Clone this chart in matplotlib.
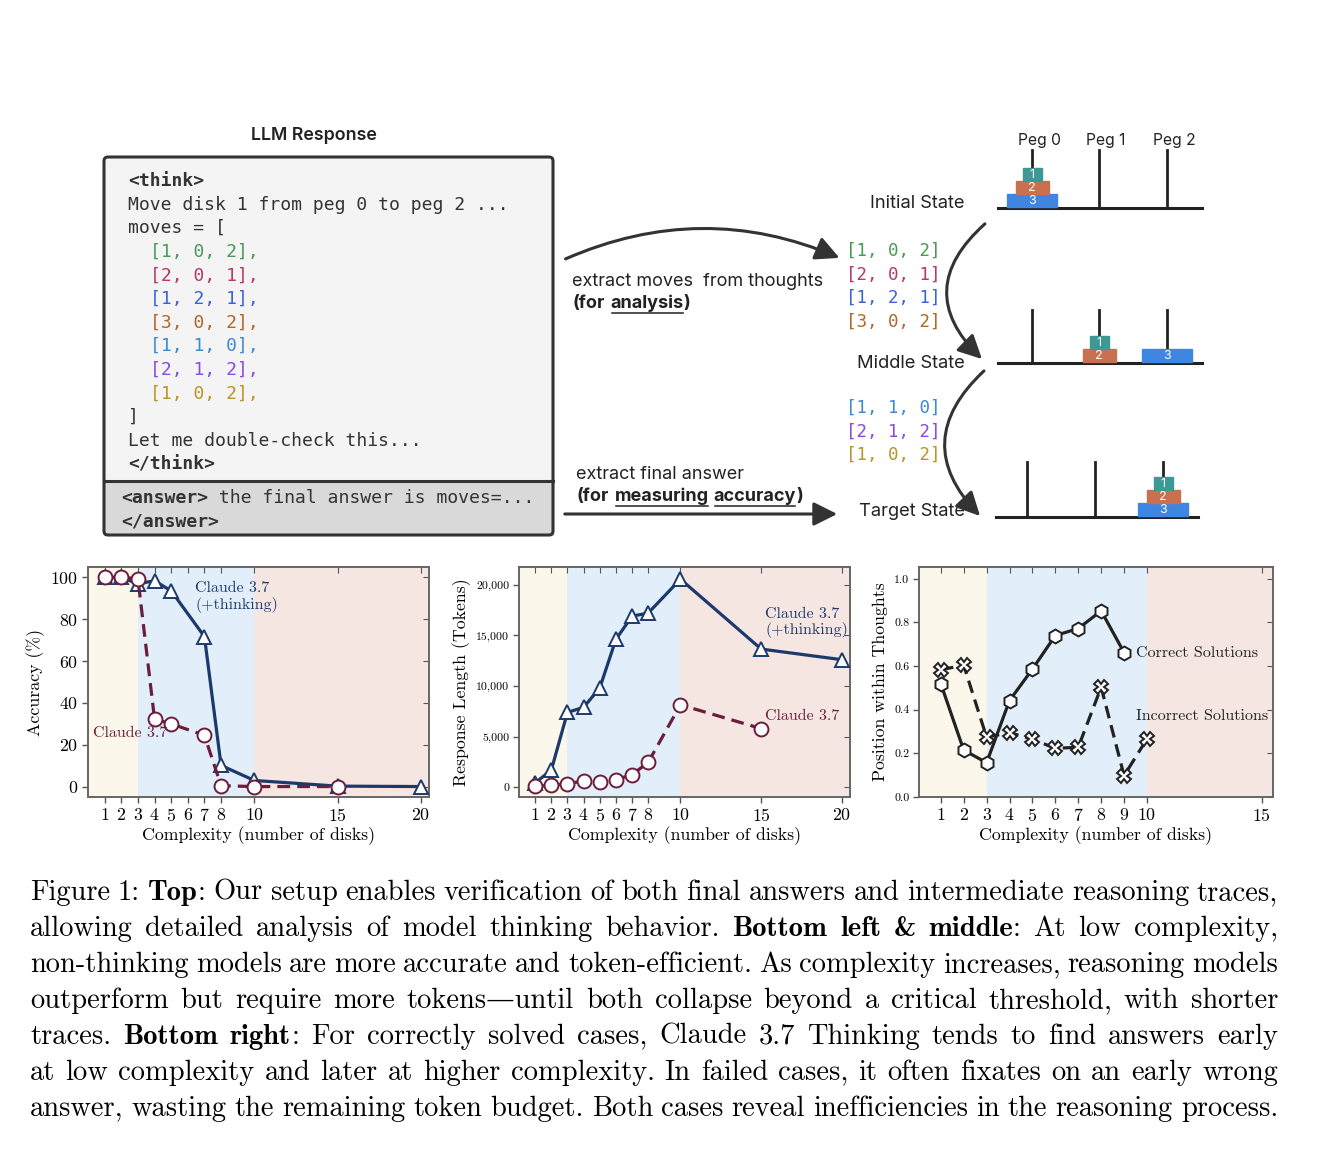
import matplotlib
matplotlib.use("Agg")
import matplotlib.pyplot as plt
from matplotlib.patches import FancyBboxPatch, Rectangle, FancyArrowPatch
from matplotlib.ticker import FuncFormatter

plt.rcParams["axes.formatter.use_mathtext"] = True
plt.rcParams["mathtext.fontset"] = "cm"

# ---- data -------------------------------------------------------------
# moves written out in the LLM thoughts
moves = [[1, 0, 2], [2, 0, 1], [1, 2, 1], [3, 0, 2], [1, 1, 0], [2, 1, 2], [1, 0, 2]]
move_colors = ["#4a9a55", "#b8386a", "#3b63d8", "#b3662a", "#3a8ad8", "#8a4be0", "#b8962a"]
split_at = 4  # moves from initial -> middle state

# disks on each peg (bottom to top)
state_names = ["Initial State", "Middle State", "Target State"]
states = [[[3, 2, 1], [], []], [[], [2, 1], [3]], [[], [], [3, 2, 1]]]
peg_names = ["Peg 0", "Peg 1", "Peg 2"]
disk_colors = {1: "#3d9994", 2: "#c9714f", 3: "#3e86e2"}

# accuracy (%)
acc_x_think = [1, 2, 3, 4, 5, 7, 8, 10, 15, 20]
acc_think = [100, 100, 97, 98.4, 93.6, 71.7, 10.1, 2.9, 0.2, 0]
acc_x_plain = [1, 2, 3, 4, 5, 7, 8, 10, 15]
acc_plain = [100, 100, 99.5, 32.3, 30, 24.5, 0.4, 0, 0]
acc_ticks = [1, 2, 3, 4, 5, 6, 7, 8, 10, 15, 20]

# response length (tokens)
tok_x_think = [1, 2, 3, 4, 5, 6, 7, 8, 10, 15, 20]
tok_think = [450, 1700, 7400, 7900, 9800, 14600, 16900, 17200, 20550, 13650, 12600]
tok_x_plain = [1, 2, 3, 4, 5, 6, 7, 8, 10, 15]
tok_plain = [100, 200, 370, 630, 500, 760, 1250, 2470, 8150, 5800]

# position of answer within thoughts
pos_x_ok = [1, 2, 3, 4, 5, 6, 7, 8, 9]
pos_ok = [0.52, 0.215, 0.157, 0.442, 0.586, 0.74, 0.772, 0.853, 0.662]
pos_x_bad = [1, 2, 3, 4, 5, 6, 7, 8, 9, 10]
pos_bad = [0.583, 0.604, 0.274, 0.295, 0.265, 0.223, 0.228, 0.503, 0.098, 0.266]
pos_ticks = [1, 2, 3, 4, 5, 6, 7, 8, 9, 10, 15]

# complexity regimes: (start, end, colour)
regimes = [(0, 3, "#fcf7eb"), (3, 10, "#e2effb"), (10, 30, "#f6e6e2")]

caption = [
    [("Figure 1: ", 0), ("Top", 1), (": Our setup enables verification of both final answers and intermediate reasoning traces,", 0)],
    [("allowing detailed analysis of model thinking behavior. ", 0), ("Bottom left & middle", 1), (": At low complexity,", 0)],
    [("non-thinking models are more accurate and token-efficient. As complexity increases, reasoning models", 0)],
    [("outperform but require more tokens\u2014until both collapse beyond a critical threshold, with shorter", 0)],
    [("traces. ", 0), ("Bottom right", 1), (": For correctly solved cases, Claude 3.7 Thinking tends to find answers early", 0)],
    [("at low complexity and later at higher complexity. In failed cases, it often fixates on an early wrong", 0)],
    [("answer, wasting the remaining token budget. Both cases reveal inefficiencies in the reasoning process.", 0)],
]

# ---- styles -----------------------------------------------------------
SERIF = ["cmr10", "DejaVu Serif"]
SERIF_B = ["cmb10", "DejaVu Serif"]
SANS = ["Inter", "DejaVu Sans"]
MONO = ["DejaVu Sans Mono"]
INK = "#333333"
NAVY = "#1b3a6b"
MAROON = "#6b1d3d"
DARK = "#222222"

W, H = 1320, 1164
fig = plt.figure(figsize=(W / 100, H / 100), dpi=100)
rend = fig.canvas.get_renderer()

# overlay in pixel coordinates for the diagram and caption
ov = fig.add_axes([0, 0, 1, 1])
ov.set_xlim(0, W)
ov.set_ylim(H, 0)
ov.axis("off")


def width_of(text, **kw):
    t = ov.text(0, 0, text, **kw)
    w = t.get_window_extent(rend).width
    t.remove()
    return w


def put_runs(x, y, runs, size, color):
    kw = dict(fontsize=size, family=SANS)
    space = width_of("a a", **kw) - width_of("aa", **kw)
    for text, weight, under in runs:
        if text == " ":
            x += space
            continue
        t = ov.text(x, y, text, fontweight=weight, color=color, va="baseline", **kw)
        w = t.get_window_extent(rend).width
        if under:
            ov.plot([x + 1, x + w - 1], [y + 4.5, y + 4.5], color=color, lw=1.1)
        x += w


# ---- LLM response box ----------------------------------------------------
ov.text(314, 135, "LLM Response", family=SANS, fontsize=12.8, fontweight="semibold",
        color="#222", ha="center", va="center")
box_l, box_r, box_t, box_m, box_b = 104, 553, 157, 481, 535
ov.add_patch(Rectangle((box_l, box_t), box_r - box_l, box_m - box_t, color="#f5f4f4", zorder=1))
ov.add_patch(Rectangle((box_l, box_m), box_r - box_l, box_b - box_m, color="#d9d9d9", zorder=1))
ov.add_patch(FancyBboxPatch((box_l, box_t), box_r - box_l, box_b - box_t,
                            boxstyle="round,pad=0,rounding_size=4", fc="none", ec=INK, lw=2.2, zorder=3))
ov.plot([box_l, box_r], [box_m, box_m], color=INK, lw=2.2, zorder=3)

code = [("<think>", "bold", INK, 128),
        ("Move disk 1 from peg 0 to peg 2 ...", "normal", INK, 128),
        ("moves = [", "normal", INK, 128)]
for m, c in zip(moves, move_colors):
    code.append(("[%d, %d, %d]," % tuple(m), "normal", c, 150))
code += [("]", "normal", INK, 128),
         ("Let me double-check this...", "normal", INK, 128),
         ("</think>", "bold", INK, 128)]
y = 186
for text, weight, col, x in code:
    ov.text(x, y, text, family=MONO, fontsize=13, fontweight=weight, color=col, va="baseline", zorder=4)
    y += 23.6
kw = dict(family=MONO, fontsize=13.1, color=INK, va="baseline", zorder=4)
t = ov.text(121, 503, "<answer>", fontweight="bold", **kw)
ov.text(121 + t.get_window_extent(rend).width, 503, " the final answer is moves=...", **kw)
ov.text(121, 527, "</answer>", fontweight="bold", **kw)

# ---- arrows and captions in the middle -----------------------------------
arrow_kw = dict(arrowstyle="-|>,head_length=0.9,head_width=0.45", mutation_scale=16,
                color=INK, lw=2.2, zorder=5)
ov.add_patch(FancyArrowPatch((563, 260), (842, 259), connectionstyle="arc3,rad=-0.22", **arrow_kw))
ov.add_patch(FancyArrowPatch((562, 514), (840, 514), **arrow_kw))
ov.add_patch(FancyArrowPatch((987, 222), (984, 361), connectionstyle="arc3,rad=0.55", **arrow_kw))
ov.add_patch(FancyArrowPatch((986, 369), (982, 518), connectionstyle="arc3,rad=0.52", **arrow_kw))

put_runs(572, 286, [("extract moves  from thoughts", "normal", False)], 13, "#222")
put_runs(573, 308, [("(for", "bold", False), (" ", "", False), ("analysis", "bold", True),
                    (")", "bold", False)], 13, "#222")
put_runs(576, 479, [("extract final answer", "normal", False)], 13, "#222")
put_runs(577, 501, [("(for", "bold", False), (" ", "", False), ("measuring", "bold", True),
                    (" ", "", False), ("accuracy", "bold", True), (")", "bold", False)], 13, "#222")

# move lists next to the state arrows
for i, (m, c) in enumerate(zip(moves, move_colors)):
    yy = 256 + 23.6 * i if i < split_at else 413 + 23.6 * (i - split_at)
    ov.text(846, yy, "[%d, %d, %d]" % tuple(m), family=MONO, fontsize=12.6, color=c, va="baseline")

# ---- tower of hanoi states ----------------------------------------------
layouts = [dict(base=208, x0=998, x1=1202, pegs=[1032, 1099, 1167], top=150, label=204),
           dict(base=363, x0=998, x1=1202, pegs=[1032, 1099, 1167], top=310, label=363),
           dict(base=517, x0=996, x1=1198, pegs=[1027, 1095, 1163], top=462, label=512)]
disk_w = {1: 19, 2: 33, 3: 50}
disk_h = 13
for name, st, lay in zip(state_names, states, layouts):
    ov.text(965, lay["label"], name, family=SANS, fontsize=13.2, color="#222", ha="right", va="center")
    ov.plot([lay["x0"], lay["x1"]], [lay["base"], lay["base"]], color="#222", lw=2.2, zorder=4)
    for px, stack in zip(lay["pegs"], st):
        ov.plot([px, px], [lay["top"], lay["base"]], color="#222", lw=2.0, zorder=4)
        for k, d in enumerate(stack):
            yb = lay["base"] - 1 - disk_h * (k + 1)
            ov.add_patch(Rectangle((px - disk_w[d] / 2, yb), disk_w[d], disk_h,
                                   color=disk_colors[d], zorder=5))
            ov.text(px, yb + disk_h / 2 + 0.5, str(d), color="white", fontsize=9, family=SANS,
                    ha="center", va="center", zorder=6)
for px, nm in zip(layouts[0]["pegs"], peg_names):
    ov.text(px + 7, 141, nm, family=SANS, fontsize=11.3, color="#222", ha="center", va="center")


# ---- bottom charts -------------------------------------------------------
def px_axes(l, t, r, b):
    return fig.add_axes([l / W, 1 - b / H, (r - l) / W, (b - t) / H])


def style(ax, xticks, xlim, ylabel):
    ax.set_xlim(*xlim)
    for a, b, c in regimes:
        ax.axvspan(a, min(b, xlim[1] + 1), color=c, lw=0, zorder=0)
    ax.set_xticks(xticks)
    ax.tick_params(direction="out", length=4, width=1, color="#555", pad=3)
    for s in ax.spines.values():
        s.set_color("#666")
        s.set_linewidth(1.4)
    for lab in ax.get_xticklabels() + ax.get_yticklabels():
        lab.set_family(SERIF)
    for lab in ax.get_xticklabels():
        lab.set_fontsize(12.8)
    ax.set_xlabel("Complexity (number of disks)", family=SERIF, fontsize=12.8, labelpad=2)
    ax.set_ylabel(ylabel, family=SERIF, fontsize=12.8, labelpad=4)
    top = ax.secondary_xaxis("top")
    top.set_xticks(xticks, labels=[])
    top.tick_params(direction="in", length=4, color="#555")
    right = ax.secondary_yaxis("right")
    right.set_yticks(ax.get_yticks(), labels=[])
    right.tick_params(direction="in", length=4, color="#555")
    for sec in (top, right):
        for s in sec.spines.values():
            s.set_visible(False)


line_kw = dict(lw=2.3, ms=10, mew=1.4, mfc="white", zorder=3)

# accuracy
ax1 = px_axes(88, 567, 429, 797)
ax1.plot(acc_x_think, acc_think, "-^", color=NAVY, mec=NAVY, **line_kw)
ax1.plot(acc_x_plain, acc_plain, "--o", color=MAROON, mec=MAROON, dashes=(4, 2.2), **line_kw)
ax1.set_ylim(-5, 105)
ax1.set_yticks([0, 20, 40, 60, 80, 100])
style(ax1, acc_ticks, (0, 20.5), "Accuracy (%)")
for lab in ax1.get_yticklabels():
    lab.set_fontsize(12.8)
ax1.text(6.45, 98, "Claude 3.7\n(+thinking)", color=NAVY, family=SERIF, fontsize=11.5,
         va="top", linespacing=1.1)
ax1.text(0.3, 25.5, "Claude 3.7", color=MAROON, family=SERIF, fontsize=11.5, va="center")

# response length
ax2 = px_axes(519, 567, 850, 797)
ax2.plot(tok_x_think, tok_think, "-^", color=NAVY, mec=NAVY, **line_kw)
ax2.plot(tok_x_plain, tok_plain, "--o", color=MAROON, mec=MAROON, dashes=(4, 2.2), **line_kw)
ax2.set_ylim(-950, 21750)
ax2.set_yticks([0, 5000, 10000, 15000, 20000])
ax2.yaxis.set_major_formatter(FuncFormatter(lambda v, p: f"{int(v):,}"))
style(ax2, acc_ticks, (0, 20.5), "Response Length (Tokens)")
for lab in ax2.get_yticklabels():
    lab.set_fontsize(8.5)
ax2.text(15.25, 17800, "Claude 3.7\n(+thinking)", color=NAVY, family=SERIF, fontsize=11.5,
         va="top", linespacing=1.1)
ax2.text(15.25, 7050, "Claude 3.7", color=MAROON, family=SERIF, fontsize=11.5, va="center")

# position within thoughts
ax3 = px_axes(919, 567, 1273, 797)
ax3.plot(pos_x_ok, pos_ok, "-h", color=DARK, mec=DARK, **line_kw)
ax3.plot(pos_x_bad, pos_bad, "--X", color=DARK, mec=DARK, dashes=(4, 2.2), **line_kw)
ax3.set_ylim(0, 1.054)
ax3.set_yticks([0, 0.2, 0.4, 0.6, 0.8, 1.0])
ax3.yaxis.set_major_formatter(FuncFormatter(lambda v, p: f"{v:.1f}"))
style(ax3, pos_ticks, (0.05, 15.5), "Position within Thoughts")
for lab in ax3.get_yticklabels():
    lab.set_fontsize(8.5)
ax3.text(9.5, 0.66, "Correct Solutions", color=DARK, family=SERIF, fontsize=11.5, va="center")
ax3.text(9.5, 0.372, "Incorrect Solutions", color=DARK, family=SERIF, fontsize=11.5, va="center")

# ---- justified caption --------------------------------------------------
cap_size = 20.5
x_left, x_right = 30, 1278
base = 900
for runs in caption:
    words, cur = [], []
    for text, bold in runs:
        for i, p in enumerate(text.split(" ")):
            if i > 0 and cur:
                words.append(cur)
                cur = []
            if p:
                cur.append((p, bold))
    if cur:
        words.append(cur)
    arts, total = [], 0
    for wd in words:
        pieces = []
        for p, bold in wd:
            t = ov.text(0, base, p, family=SERIF_B if bold else SERIF, fontsize=cap_size,
                        color="black", va="baseline")
            w = t.get_window_extent(rend).width
            pieces.append((t, w))
            total += w
        arts.append(pieces)
    gap = (x_right - x_left - total) / max(len(words) - 1, 1)
    x = x_left
    for pieces in arts:
        for t, w in pieces:
            t.set_x(x)
            x += w
        x += gap
    base += 36

fig.savefig("out.png", dpi=100)
